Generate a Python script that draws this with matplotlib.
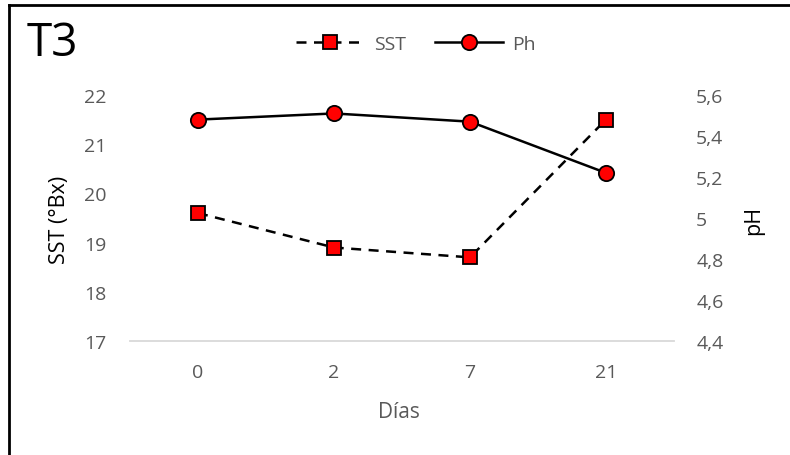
import matplotlib.pyplot as plt
from matplotlib.lines import Line2D

# data
dias = ['0', '2', '7', '21']
sst = [19.6, 18.9, 18.7, 21.5]
ph = [5.48, 5.51, 5.47, 5.22]

plt.rcParams['font.family'] = ['Open Sans', 'DejaVu Sans']
gray = '#595959'
W, H = 790, 456

fig = plt.figure(figsize=(7.9, 4.56), dpi=100)
ax = fig.add_axes([130/W, 1 - 342/H, 544/W, 246/H])
ax2 = ax.twinx()

x = range(len(dias))
l1, = ax.plot(x, sst, '--s', color='black', lw=1.8, dashes=(4, 3),
              markerfacecolor='#ff0000', markeredgecolor='black', markersize=10, mew=1.3, label='SST')
l2, = ax2.plot(x, ph, '-o', color='black', lw=1.8,
               markerfacecolor='#ff0000', markeredgecolor='black', markersize=11, mew=1.3, label='Ph')

ax.set_xlim(-0.5, 3.5)
ax.set_ylim(17, 22)
ax2.set_ylim(4.4, 5.6)
ax.set_yticks([17, 18, 19, 20, 21, 22])
ax2.set_yticks([4.4, 4.6, 4.8, 5.0, 5.2, 5.4, 5.6])
ax2.set_yticklabels(['4,4', '4,6', '4,8', '5', '5,2', '5,4', '5,6'])
ax.set_xticks(list(x))
ax.set_xticklabels(dias)

for a in (ax, ax2):
    for s in a.spines.values():
        s.set_visible(False)
    a.tick_params(length=0, labelsize=14, colors=gray)
ax.spines['bottom'].set_visible(True)
ax.spines['bottom'].set_color('#d9d9d9')
ax.spines['bottom'].set_linewidth(1.3)
ax.tick_params(axis='y', pad=17)
ax.tick_params(axis='x', pad=16)
ax2.tick_params(axis='y', pad=16)

fig.text(399/W, 1 - 413/H, 'Días', fontsize=15, color=gray, ha='center', va='center')
fig.text(60/W, 1 - 220/H, 'SST (°Bx)', fontsize=15.5, color='black', ha='center', va='center', rotation=90)
fig.text(754/W, 1 - 220/H, 'pH', fontsize=15.5, color='black', ha='center', va='center', rotation=90)

fig.text(27/W, 1 - 44/H, 'T3', fontsize=33, va='center', ha='left')

fig.legend(handles=[l1, l2], loc='center', bbox_to_anchor=(416/W, 1 - 45/H), ncol=2,
           frameon=False, fontsize=14, labelcolor=gray, handlelength=3.5,
           handletextpad=0.5, columnspacing=1.5)

# frame lines (left and top only)
fig.add_artist(Line2D([9/W, 9/W], [0, 1 - 6/H], color='black', lw=2, transform=fig.transFigure))
fig.add_artist(Line2D([9/W, 1], [1 - 6/H, 1 - 6/H], color='black', lw=2, transform=fig.transFigure))

fig.savefig('out.png', dpi=100)
